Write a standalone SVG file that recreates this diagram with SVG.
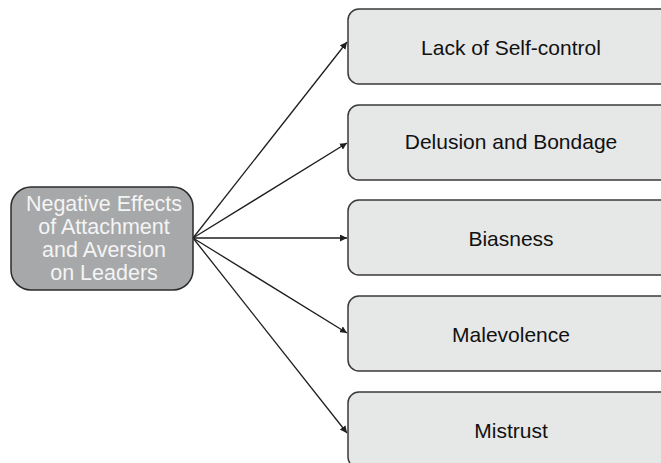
<svg xmlns="http://www.w3.org/2000/svg" width="661" height="463" viewBox="0 0 661 463">
  <style>
    .src rect { fill: #a7a8aa; stroke: #2b2b2b; stroke-width: 1.5; }
    .src text { fill: #f4f4f4; font-family: "Liberation Sans", Arial, sans-serif; font-size: 21.5px; text-anchor: middle; }
    .leaf rect { fill: #e6e7e7; stroke: #3a3a3a; stroke-width: 1.5; }
    .leaf text { fill: #111; font-family: "Liberation Sans", Arial, sans-serif; font-size: 21px; text-anchor: middle; }
    .edges line { stroke: #1e1e1e; stroke-width: 1.3; marker-end: url(#arrow); }
  </style>
  <defs>
    <marker id="arrow" viewBox="0 0 10 10" refX="10" refY="5" markerWidth="7" markerHeight="7" markerUnits="userSpaceOnUse" orient="auto">
      <path d="M0,0 L10,5 L0,10 z" fill="#1e1e1e"/>
    </marker>
  </defs>
  <rect width="661" height="463" fill="#ffffff"/>

  <g class="edges" id="connectors">
    <line x1="193" y1="238" x2="347" y2="42"/>
    <line x1="193" y1="238" x2="347" y2="143"/>
    <line x1="193" y1="238" x2="347" y2="238"/>
    <line x1="193" y1="238" x2="347" y2="333"/>
    <line x1="193" y1="238" x2="347" y2="433"/>
  </g>

  <g class="src" id="node-source">
    <rect x="11" y="187" width="182" height="103" rx="20" ry="20"/>
    <text x="104" y="211">Negative Effects</text>
    <text x="104" y="234">of Attachment</text>
    <text x="104" y="257">and Aversion</text>
    <text x="104" y="280">on Leaders</text>
  </g>

  <g class="leaf" id="node-self-control">
    <rect x="348" y="9" width="326" height="75" rx="11" ry="11"/>
    <text x="511" y="55">Lack of Self-control</text>
  </g>
  <g class="leaf" id="node-delusion">
    <rect x="348" y="105" width="326" height="75" rx="11" ry="11"/>
    <text x="511" y="149">Delusion and Bondage</text>
  </g>
  <g class="leaf" id="node-biasness">
    <rect x="348" y="200" width="326" height="75" rx="11" ry="11"/>
    <text x="511" y="246">Biasness</text>
  </g>
  <g class="leaf" id="node-malevolence">
    <rect x="348" y="296" width="326" height="75" rx="11" ry="11"/>
    <text x="511" y="342">Malevolence</text>
  </g>
  <g class="leaf" id="node-mistrust">
    <rect x="348" y="392" width="326" height="76" rx="11" ry="11"/>
    <text x="511" y="438">Mistrust</text>
  </g>
</svg>
